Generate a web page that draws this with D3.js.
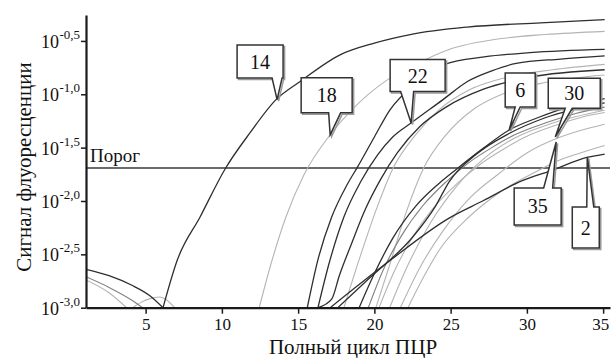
<!DOCTYPE html>
<html>
<head>
<meta charset="utf-8">
<script src="https://cdn.jsdelivr.net/npm/d3@7"></script>
<style>
  body { margin: 0; background: #fff; }
  svg { display: block; font-family: "Liberation Serif", "Times New Roman", serif; }
</style>
</head>
<body>
<svg id="chart" width="611" height="358"></svg>
<script>
// values are [PCR cycle, log10(fluorescence signal)]
const xTicks = [5, 10, 15, 20, 25, 30, 35]
const yTicks = [-3.0, -2.5, -2.0, -1.5, -1.0, -0.5]
const yTickLabels = ['-3,0', '-2,5', '-2,0', '-1,5', '-1,0', '-0,5']
const threshold = -1.69

const curve14 = [[6.14, -3.0], [7.06, -2.56], [8.57, -2.15], [10.21, -1.70], [11.85, -1.36], [13.55, -1.05], [15.13, -0.88], [17.75, -0.63], [20, -0.52], [22.35, -0.44], [26.1, -0.37], [30.9, -0.33], [35.1, -0.30]]
const curveA = [[15.6, -3.0], [16.3, -2.55], [17.2, -2.15], [18.2, -1.85], [18.9, -1.68], [20.0, -1.40], [21.0, -1.15], [22.7, -0.90], [24.6, -0.72], [27.2, -0.65], [30.2, -0.61], [35.1, -0.58]]
const curve22 = [[16.3, -3.0], [17.0, -2.6], [18.0, -2.15], [19.1, -1.82], [20.2, -1.57], [21.2, -1.40], [22.4, -1.27], [24.5, -1.05], [26.1, -0.88], [27.7, -0.78], [29.3, -0.71], [32.2, -0.67], [35.1, -0.64]]
const curveK = [[16.3, -3.0], [17.2, -2.92], [17.7, -2.7], [18.5, -2.4], [19.4, -2.08], [20.4, -1.80], [21.5, -1.55], [23.0, -1.30], [24.7, -1.12], [27.2, -0.95], [30.2, -0.84], [35.1, -0.77]]
const curve2 = [[17.1, -3.0], [21.0, -2.56], [24.9, -2.16], [27.1, -2.0], [29.7, -1.81], [31.5, -1.72], [34.0, -1.59], [35.1, -1.56]]
const curveX = [[17.6, -3.0], [19.7, -2.72], [22.5, -2.34], [24.0, -2.05], [24.9, -1.82], [26.7, -1.56], [28.8, -1.37], [31.2, -1.22], [35.1, -1.08]]
const curve6 = [[19.0, -3.0], [20.0, -2.68], [21.2, -2.35], [22.7, -2.05], [24.2, -1.84], [25.4, -1.70], [27.2, -1.50], [28.84, -1.335], [30.7, -1.22], [32.7, -1.12], [35.1, -1.04]]

const curve18 = [[12.45, -3.0], [13.2, -2.6], [14.2, -2.15], [15.4, -1.75], [17.1, -1.38], [18.7, -1.12], [20.8, -0.87], [22.7, -0.72], [24.9, -0.58], [28.2, -0.48], [31.2, -0.44], [35.1, -0.41]]
const curveL1 = [[18.0, -3.0], [19.0, -2.55], [20.2, -2.05], [21.2, -1.70], [22.7, -1.38], [24.2, -1.15], [26.2, -0.96], [28.7, -0.84], [31.7, -0.77], [35.1, -0.72]]
const curveL2 = [[20.1, -3.0], [21.0, -2.6], [22.1, -2.1], [23.2, -1.70], [24.7, -1.38], [26.5, -1.14], [28.7, -0.98], [31.2, -0.89], [35.1, -0.82]]
const curveL3 = [[19.6, -3.0], [20.6, -2.64], [21.8, -2.32], [23.2, -2.04], [24.7, -1.82], [26.2, -1.64], [27.7, -1.50], [29.2, -1.38], [31.2, -1.27], [33.2, -1.18], [35.1, -1.12]]
const curveL4 = [[20.3, -3.0], [21.3, -2.66], [22.5, -2.34], [23.9, -2.06], [25.4, -1.84], [26.9, -1.66], [28.4, -1.52], [29.9, -1.40], [31.7, -1.30], [33.7, -1.21], [35.1, -1.17]]
const curve30 = [[21.7, -3.0], [23.0, -2.62], [24.5, -2.28], [26.2, -1.98], [28.2, -1.74], [30.0, -1.55], [31.86, -1.42], [33.5, -1.34], [35.1, -1.28]]
const curve35 = [[22.2, -3.0], [23.2, -2.72], [24.3, -2.45], [26.2, -2.15], [28.2, -1.92], [30.8, -1.71], [31.92, -1.63], [33.5, -1.55], [35.1, -1.48]]
const curveL5 = [[21.0, -3.0], [22.2, -2.6], [23.7, -2.2], [25.4, -1.86], [27.2, -1.60], [29.2, -1.41], [31.7, -1.27], [35.1, -1.15]]

// early-cycle baseline noise
const base1 = [[1.09, -2.64], [2.6, -2.70], [4.1, -2.79], [5.3, -2.89], [6.14, -3.0]]
const base2 = [[1.09, -2.71], [2.6, -2.81], [4.1, -2.93], [4.8, -3.0]]
const base3 = [[1.09, -2.74], [2.6, -2.86], [3.75, -3.0]]
const bump = [[4.15, -3.0], [4.7, -2.95], [5.3, -2.915], [5.9, -2.9], [6.4, -2.93], [6.9, -3.0]]

const darkCurves = [curve14, curveA, curve22, curveK, curve2, curveX, curve6, base1]
const midCurves = [curveL3, base2]
const lightCurves = [curve18, curveL1, curveL2, curveL4, curve30, curve35, curveL5, base3, bump]

// callout labels and the point each one points at
const calloutLabels = ['14', '18', '22', '6', '30', '35', '2']
const calloutTips = [[13.62, -1.05], [17.1, -1.38], [22.41, -1.27], [28.84, -1.335], [31.86, -1.40], [31.92, -1.447], [33.96, -1.588]]

// callout box layout in px: offset of box centre from tip, size, pointer base offsets
const calloutLayout = {
  '14': { dx: -17, dy: -38, w: 46, h: 33, b0: 12, b1: 22 },
  '18': { dx: -3.5, dy: -39.5, w: 51, h: 35, b0: 2, b1: 14 },
  '22': { dx: 6.5, dy: -47.5, w: 55, h: 32, b0: -17, b1: -4 },
  '6': { dx: 11, dy: -40, w: 30, h: 34, b0: -5, b1: 0 },
  '30': { dx: 19, dy: -43.7, w: 52, h: 30, b0: -9, b1: -2 },
  '35': { dx: -18.5, dy: 64.5, w: 47, h: 37, b0: 6, b1: 15 },
  '2': { dx: -1.5, dy: 70.5, w: 27, h: 41, b0: 1, b1: 8 }
}

const svg = d3.select('#chart')

const x = d3.scaleLinear().domain([1.09, 35.45]).range([86, 610])
const y = d3.scaleLinear().domain([-3, -0.257]).range([307.7, 15])

svg.append('defs')
  .append('clipPath')
  .attr('id', 'plotClip')
  .append('rect')
  .attr('x', 86)
  .attr('y', 10)
  .attr('width', 525)
  .attr('height', 298)

const line = d3.line()
  .x((d) => x(d[0]))
  .y((d) => y(d[1]))
  .curve(d3.curveMonotoneX)

const plot = svg.append('g').attr('clip-path', 'url(#plotClip)')

// threshold
plot.append('line')
  .attr('x1', x.range()[0])
  .attr('x2', x.range()[1])
  .attr('y1', y(threshold))
  .attr('y2', y(threshold))
  .style('stroke', '#6a6a6a')
  .style('stroke-width', 2)

function drawCurves(list, color, width) {
  plot.append('g')
    .selectAll('path')
    .data(list)
    .enter()
    .append('path')
    .attr('d', line)
    .style('fill', 'none')
    .style('stroke', color)
    .style('stroke-width', width)
}

drawCurves(lightCurves, '#b4b4b4', 1.1)
drawCurves(midCurves, '#808080', 1.1)
drawCurves(darkCurves, '#2e2e2e', 1.3)

svg.append('text')
  .attr('x', 90)
  .attr('y', y(threshold) - 6)
  .style('font-size', '19px')
  .attr('fill', '#111')
  .text('Порог')

// axes
const xAxis = svg.append('g')
  .attr('transform', `translate(0, ${y.range()[0]})`)
  .call(d3.axisBottom(x).tickValues(xTicks).tickSize(6).tickSizeOuter(0).tickPadding(4))
xAxis.select('.domain').style('stroke', '#1a1a1a').style('stroke-width', 2.2)
xAxis.selectAll('.tick line').style('stroke', '#1a1a1a').style('stroke-width', 1.5)
xAxis.selectAll('.tick text')
  .style('font-family', '"Liberation Serif", serif')
  .style('font-size', '17px')
  .attr('fill', '#111')
  // keep the last label inside the window
  .attr('dx', (d) => (d === xTicks[xTicks.length - 1] ? -3 : 0))

const yAxis = svg.append('g')
  .attr('transform', `translate(${x.range()[0]}, 0)`)
  .call(d3.axisLeft(y).tickValues(yTicks).tickSize(5).tickSizeOuter(0).tickFormat(''))
yAxis.select('.domain').style('stroke', '#1a1a1a').style('stroke-width', 2.2)
yAxis.selectAll('.tick line').style('stroke', '#1a1a1a').style('stroke-width', 1.5)

const yLabels = svg.append('g')
  .selectAll('g')
  .data(yTicks)
  .enter()
  .append('g')
yLabels.append('text')
  .attr('x', 59)
  .attr('y', (d) => y(d) + 7)
  .attr('text-anchor', 'end')
  .style('font-size', '18px')
  .attr('fill', '#111')
  .text('10')
yLabels.append('text')
  .attr('x', 59.5)
  .attr('y', (d) => y(d) - 2)
  .style('font-size', '13px')
  .attr('fill', '#111')
  .text((d, i) => yTickLabels[i])

// axis titles
svg.append('text')
  .attr('x', 353)
  .attr('y', 354)
  .attr('text-anchor', 'middle')
  .style('font-size', '21px')
  .attr('fill', '#111')
  .text('Полный цикл ПЦР')

svg.append('text')
  .attr('transform', 'translate(31, 167) rotate(-90)')
  .attr('text-anchor', 'middle')
  .style('font-size', '21px')
  .attr('fill', '#111')
  .text('Сигнал флуоресценции')

// callouts
function calloutPath(tip, lay, ox, oy) {
  const tx = x(tip[0]) + ox
  const ty = y(tip[1]) + oy
  const cx = tx + lay.dx
  const cy = ty + lay.dy
  const x0 = cx - lay.w / 2
  const x1 = cx + lay.w / 2
  const y0 = cy - lay.h / 2
  const y1 = cy + lay.h / 2
  const p = d3.path()
  if (lay.dy < 0) {
    // pointer from the bottom edge
    p.moveTo(x0, y0)
    p.lineTo(x1, y0)
    p.lineTo(x1, y1)
    p.lineTo(cx + lay.b1, y1)
    p.lineTo(tx, ty)
    p.lineTo(cx + lay.b0, y1)
    p.lineTo(x0, y1)
  } else {
    // pointer from the top edge
    p.moveTo(x0, y0)
    p.lineTo(cx + lay.b0, y0)
    p.lineTo(tx, ty)
    p.lineTo(cx + lay.b1, y0)
    p.lineTo(x1, y0)
    p.lineTo(x1, y1)
    p.lineTo(x0, y1)
  }
  p.closePath()
  return p.toString()
}

const callouts = svg.append('g')
  .selectAll('g')
  .data(calloutLabels)
  .enter()
  .append('g')

callouts.append('path')
  .attr('d', (d, i) => calloutPath(calloutTips[i], calloutLayout[d], 1.5, 1.5))
  .style('fill', 'none')
  .style('stroke', '#9a9a9a')
  .style('stroke-width', 1.5)

callouts.append('path')
  .attr('d', (d, i) => calloutPath(calloutTips[i], calloutLayout[d], 0, 0))
  .style('fill', '#fff')
  .style('stroke', '#333')
  .style('stroke-width', 1.5)
  .style('stroke-linejoin', 'miter')

callouts.append('text')
  .attr('x', (d, i) => x(calloutTips[i][0]) + calloutLayout[d].dx)
  .attr('y', (d, i) => y(calloutTips[i][1]) + calloutLayout[d].dy + 7)
  .attr('text-anchor', 'middle')
  .style('font-size', '20px')
  .attr('fill', '#111')
  .text((d) => d)
</script>
</body>
</html>
